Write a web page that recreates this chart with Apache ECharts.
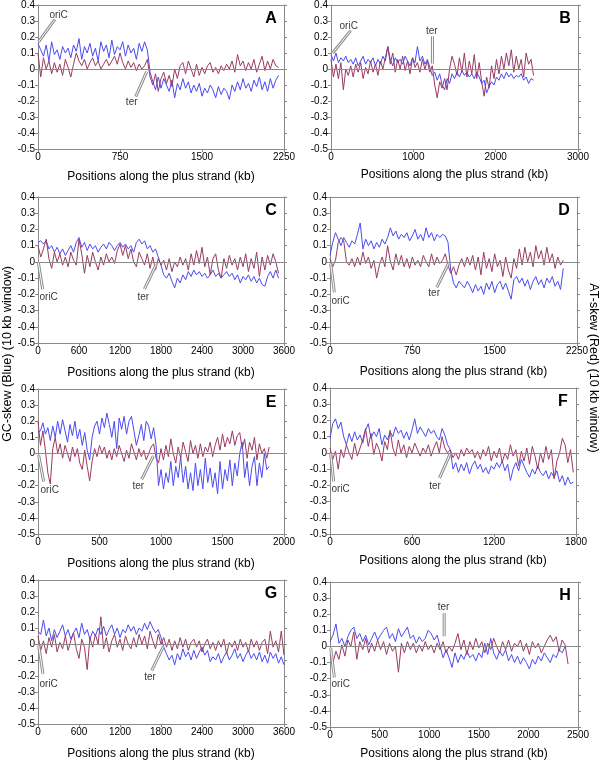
<!DOCTYPE html>
<html>
<head>
<meta charset="utf-8">
<script src="https://cdn.jsdelivr.net/npm/echarts@6/dist/echarts.min.js"></script>
<style>
html,body{margin:0;padding:0;background:#fff;}
#chart{width:600px;height:761px;}
</style>
</head>
<body>
<div id="chart"></div>
<script>
// ---------------- DATA (window step in kb, GC-skew blue, AT-skew red) ----------------
const stepA = 25;
const gcA = [0.16,0.12,0.08,0.15,0.05,0.17,0.09,0.12,0.06,0.14,0.10,0.13,0.07,0.15,0.11,0.19,0.06,0.14,0.10,0.16,0.08,0.13,0.05,0.17,0.11,0.15,0.07,0.18,0.09,0.14,0.12,0.17,0.08,0.15,0.10,0.13,0.06,0.16,0.11,0.17,0.12,-0.02,-0.08,-0.13,-0.05,-0.12,-0.06,-0.10,-0.14,-0.07,-0.18,-0.09,-0.13,-0.06,-0.12,-0.08,-0.15,-0.10,-0.14,-0.09,-0.17,-0.12,-0.15,-0.10,-0.13,-0.18,-0.11,-0.16,-0.12,-0.14,-0.19,-0.10,-0.14,-0.08,-0.13,-0.06,-0.12,-0.09,-0.14,-0.07,-0.11,-0.05,-0.13,-0.08,-0.14,-0.06,-0.12,-0.07,-0.04];
const atA = [0.10,-0.05,0.07,0.00,0.05,-0.03,0.04,-0.02,0.03,-0.04,0.06,0.01,-0.05,0.03,0.10,0.05,0.02,0.06,0.00,0.04,0.07,0.02,0.05,0.00,0.03,0.06,0.02,0.05,0.08,0.03,0.10,0.04,0.00,0.05,0.01,0.04,-0.01,0.03,0.00,0.02,0.06,-0.05,-0.10,-0.03,-0.14,-0.06,-0.02,-0.09,-0.04,-0.11,0.00,-0.06,0.02,0.04,-0.03,0.05,0.00,-0.05,0.03,-0.04,0.01,-0.03,0.02,0.04,-0.02,0.01,-0.03,0.02,-0.01,0.03,0.00,0.05,-0.02,0.09,0.02,0.05,-0.01,0.04,0.00,0.06,-0.02,0.03,0.08,-0.01,0.05,0.00,0.06,0.02,0.01];

const stepB = 30;
const gcB = [0.09,0.05,0.10,0.04,0.07,0.05,0.08,0.04,0.06,0.03,0.07,0.02,0.05,0.08,0.03,0.06,0.04,0.07,0.02,0.06,0.03,0.08,0.05,0.14,0.06,0.02,0.07,0.04,0.06,0.03,0.08,0.05,0.02,0.07,0.04,0.14,0.05,0.08,0.03,0.06,0.01,-0.04,-0.02,-0.07,-0.03,-0.10,-0.13,-0.06,-0.09,-0.03,-0.06,-0.02,-0.05,-0.01,-0.04,-0.02,-0.05,-0.03,-0.06,-0.02,-0.05,-0.09,-0.07,-0.15,-0.11,-0.08,-0.10,-0.05,-0.07,-0.03,-0.06,-0.02,-0.05,-0.03,-0.06,-0.04,-0.05,-0.03,-0.07,-0.05,-0.09,-0.06,-0.07];
const atB = [0.06,-0.05,0.03,-0.06,0.04,-0.13,0.00,-0.04,0.02,-0.05,0.03,-0.02,0.04,-0.06,0.01,-0.03,0.05,-0.02,0.03,-0.04,0.05,0.00,0.07,0.14,0.03,0.10,-0.02,0.06,0.00,0.08,-0.01,0.05,-0.03,0.07,0.01,0.04,-0.02,0.06,0.00,0.05,-0.02,0.02,-0.10,-0.18,-0.08,-0.12,-0.06,-0.13,0.00,0.08,0.03,-0.04,0.07,-0.02,0.10,-0.05,0.05,-0.03,0.09,-0.06,0.04,-0.08,-0.17,-0.05,-0.12,0.02,-0.06,0.06,-0.03,0.08,0.00,0.10,0.02,0.12,-0.02,0.08,0.00,0.06,-0.05,0.10,0.03,0.06,-0.04];

const stepC = 40;
const gcC = [0.12,0.13,0.11,0.13,0.08,0.10,0.06,0.09,0.05,0.08,0.04,0.07,0.10,0.06,0.12,0.15,0.09,0.12,0.07,0.11,0.08,0.10,0.06,0.09,0.11,0.08,0.12,0.10,0.07,0.10,0.12,0.09,0.11,0.08,0.10,0.06,0.12,0.14,0.11,0.13,0.08,0.10,0.06,0.08,0.03,-0.02,-0.08,-0.10,-0.07,-0.12,-0.16,-0.10,-0.13,-0.08,-0.11,-0.06,-0.09,-0.05,-0.08,-0.06,-0.09,-0.07,-0.10,-0.08,-0.05,-0.09,-0.07,-0.10,-0.08,-0.06,-0.09,-0.07,-0.11,-0.08,-0.13,-0.09,-0.11,-0.08,-0.12,-0.09,-0.13,-0.10,-0.14,-0.15,-0.09,-0.06,-0.10,-0.05,-0.10];
const atC = [0.10,0.03,0.08,0.14,0.02,-0.04,0.06,0.00,0.05,-0.02,0.03,-0.03,0.06,0.01,-0.02,0.14,0.05,-0.07,0.04,-0.03,0.06,0.00,-0.05,0.03,-0.02,0.05,0.00,0.03,-0.01,0.07,0.11,0.04,0.10,0.02,0.08,0.00,-0.03,0.06,0.02,-0.02,0.05,-0.04,0.03,-0.05,0.02,-0.02,0.01,-0.05,0.02,-0.06,0.00,-0.03,0.03,-0.02,0.02,-0.05,0.05,-0.02,0.07,-0.01,0.09,-0.03,0.03,-0.08,0.02,0.05,-0.05,-0.10,0.02,-0.04,0.04,-0.02,0.02,-0.05,0.03,-0.03,0.05,-0.06,0.02,-0.04,0.06,-0.09,0.03,-0.05,0.04,-0.02,0.05,0.00,-0.07];

const stepD = 25;
const gcD = [0.04,0.12,0.18,0.14,0.10,0.15,0.12,0.09,0.13,0.11,0.17,0.24,0.08,0.14,0.10,0.13,0.08,0.12,0.09,0.14,0.11,0.15,0.21,0.16,0.19,0.14,0.17,0.15,0.18,0.13,0.16,0.20,0.14,0.17,0.13,0.21,0.15,0.18,0.13,0.17,0.15,0.17,0.16,0.12,-0.05,-0.13,-0.16,-0.12,-0.14,-0.16,-0.12,-0.15,-0.19,-0.14,-0.18,-0.15,-0.20,-0.13,-0.17,-0.12,-0.19,-0.14,-0.12,-0.17,-0.13,-0.18,-0.23,-0.11,-0.09,-0.13,-0.10,-0.15,-0.11,-0.17,-0.12,-0.09,-0.14,-0.11,-0.16,-0.10,-0.13,-0.09,-0.15,-0.12,-0.17,-0.04];
const atD = [0.02,-0.03,0.01,0.12,0.15,0.13,0.00,-0.02,0.02,-0.03,0.03,-0.02,0.06,-0.01,0.03,-0.04,0.01,-0.10,-0.02,0.03,-0.03,0.10,0.00,-0.05,0.05,-0.02,0.04,-0.03,0.02,-0.04,0.03,-0.02,0.01,-0.03,0.04,0.00,-0.03,0.05,-0.02,0.03,-0.01,0.01,0.05,-0.02,-0.07,-0.03,-0.08,-0.02,0.02,-0.03,0.03,-0.02,0.04,-0.05,0.03,-0.08,0.06,-0.04,0.02,-0.06,0.05,-0.03,0.01,-0.09,0.03,-0.05,-0.10,0.02,-0.04,0.08,-0.02,0.09,0.00,0.06,-0.03,0.10,0.02,0.07,-0.02,0.09,0.00,0.05,-0.04,0.03,-0.02,0.01];

const stepE = 20;
const gcE = [0.13,0.14,0.19,0.12,0.16,0.08,0.17,0.10,0.20,0.12,0.21,0.14,0.07,0.18,0.11,0.20,0.09,0.15,0.05,0.13,0.02,-0.04,0.10,0.17,0.20,0.12,0.22,0.16,0.25,0.18,0.10,0.20,0.03,0.22,0.15,0.23,0.12,0.20,0.23,0.14,0.05,0.11,0.18,0.08,0.20,0.17,0.09,0.16,0.05,-0.20,-0.10,-0.22,-0.12,-0.18,-0.05,-0.20,-0.08,-0.15,-0.02,-0.18,-0.08,-0.22,-0.12,-0.23,-0.06,-0.20,-0.10,-0.22,-0.03,-0.18,-0.09,-0.21,-0.12,-0.25,-0.05,-0.22,-0.10,-0.17,-0.04,-0.20,-0.06,-0.14,0.00,0.07,-0.15,-0.05,-0.20,-0.08,-0.02,-0.20,-0.06,-0.15,0.00,-0.10,-0.08];
const atE = [0.20,0.05,0.14,0.02,-0.12,-0.19,0.03,0.10,0.00,0.06,-0.03,0.05,0.00,-0.05,0.04,-0.02,0.03,-0.06,-0.10,0.02,-0.08,-0.17,-0.05,0.03,-0.02,0.05,0.00,0.04,-0.03,0.02,-0.04,0.03,-0.02,0.05,0.00,-0.05,0.02,-0.03,0.06,0.01,-0.04,0.03,-0.02,0.02,-0.04,0.00,0.04,0.06,-0.03,-0.06,0.03,-0.04,0.05,-0.02,0.09,0.00,-0.06,0.04,-0.03,0.07,0.01,-0.05,0.08,0.00,0.05,-0.03,0.06,-0.02,0.04,0.01,0.07,-0.02,0.05,0.10,0.02,0.12,0.04,0.10,0.06,0.14,0.05,0.11,0.13,0.03,0.09,-0.03,0.07,0.02,0.10,-0.04,0.06,0.00,0.03,-0.03,0.04];

const stepF = 20;
const gcF = [0.09,0.18,0.21,0.15,0.19,0.10,0.05,0.12,0.07,0.13,0.08,0.11,0.06,0.14,0.18,0.09,0.13,0.10,0.15,0.05,0.11,0.08,0.13,0.10,0.16,0.12,0.14,0.09,0.13,0.08,0.14,0.21,0.12,0.16,0.13,0.10,0.15,0.12,0.14,0.10,0.08,0.15,0.11,0.05,0.02,-0.10,-0.06,-0.12,-0.07,-0.11,-0.06,-0.13,-0.08,-0.05,-0.10,-0.07,-0.12,-0.09,-0.13,-0.08,-0.10,-0.06,-0.09,-0.05,-0.11,-0.07,-0.17,-0.10,-0.06,-0.11,-0.04,-0.08,-0.12,-0.15,-0.10,-0.13,-0.08,-0.12,-0.14,-0.11,-0.16,-0.12,-0.15,-0.11,-0.18,-0.14,-0.20,-0.15,-0.19,-0.18];
const atF = [0.03,-0.04,0.01,-0.10,0.02,-0.03,0.05,0.00,-0.04,0.06,-0.02,0.03,0.08,0.15,0.04,0.12,-0.01,0.06,0.02,-0.05,0.07,0.02,0.14,0.03,-0.02,0.08,0.00,0.05,-0.03,0.04,0.00,0.06,0.02,-0.02,0.03,0.00,0.05,-0.02,0.03,0.07,0.00,0.10,0.03,0.00,0.02,-0.03,0.00,-0.04,0.02,-0.02,0.03,0.00,0.02,-0.03,0.01,-0.04,0.02,-0.02,0.04,-0.05,0.01,-0.03,0.03,-0.06,0.00,-0.04,0.05,-0.02,0.02,-0.08,0.01,-0.05,0.03,-0.07,0.04,-0.02,-0.10,0.00,-0.06,0.04,-0.04,0.02,-0.16,-0.05,0.00,0.09,0.05,-0.06,0.02,-0.12];

const stepG = 40;
const gcG = [0.08,0.06,0.15,0.05,0.10,0.02,0.09,0.04,0.08,0.12,0.05,0.09,0.03,0.07,0.10,0.04,0.13,0.06,0.09,0.03,0.08,0.05,0.10,0.06,0.11,0.05,0.09,0.12,0.06,0.10,0.04,0.09,0.07,0.12,0.08,0.11,0.06,0.10,0.08,0.13,0.09,0.14,0.10,0.07,0.09,0.04,-0.02,-0.06,-0.10,-0.07,-0.13,-0.06,-0.10,-0.03,-0.08,-0.05,-0.10,-0.04,-0.09,-0.05,-0.02,-0.07,-0.04,-0.11,-0.08,-0.10,-0.06,-0.12,-0.08,-0.05,-0.10,-0.07,-0.03,-0.09,-0.06,-0.11,-0.07,-0.04,-0.09,-0.06,-0.10,-0.05,-0.11,-0.07,-0.12,-0.05,-0.09,-0.06,-0.12,-0.08,-0.13];
const atG = [0.05,-0.04,0.02,-0.06,0.04,-0.02,0.06,-0.05,0.01,-0.03,0.05,-0.04,0.02,0.07,-0.03,-0.09,0.03,-0.02,-0.16,0.04,-0.02,0.06,0.00,0.17,-0.03,0.04,-0.05,0.02,0.06,-0.02,0.03,-0.04,0.05,0.00,-0.03,0.04,-0.02,0.06,0.00,0.05,-0.03,0.08,0.02,-0.03,0.06,0.00,0.04,-0.02,0.03,-0.04,0.02,-0.03,0.04,-0.02,0.03,-0.04,0.01,0.03,-0.02,0.02,-0.05,0.00,0.03,-0.03,0.01,-0.04,0.02,-0.02,0.03,-0.06,0.01,-0.02,0.02,-0.04,0.03,-0.02,0.01,-0.05,0.03,-0.02,0.02,-0.04,0.01,0.03,-0.06,0.08,-0.02,0.02,-0.05,0.08,-0.07];

const stepH = 30;
const gcH = [0.03,0.07,0.14,0.02,0.05,0.00,0.06,0.10,0.12,0.05,0.08,0.03,0.07,0.01,0.05,0.09,0.04,0.07,0.10,0.12,0.05,0.08,0.03,0.11,0.06,0.09,0.12,0.05,0.07,0.02,0.06,0.03,0.05,0.10,0.08,0.04,0.07,0.00,-0.07,-0.02,-0.07,-0.13,-0.04,-0.10,-0.05,-0.08,-0.03,-0.07,-0.05,-0.09,-0.04,-0.07,0.02,-0.05,0.05,-0.04,-0.08,-0.03,-0.06,-0.02,-0.09,-0.05,-0.10,-0.06,-0.11,-0.07,-0.10,-0.14,-0.08,-0.11,-0.06,-0.09,-0.04,-0.07,-0.10,-0.05,-0.07,-0.02,-0.04,0.00,0.00];
const atH = [-0.05,-0.10,-0.03,-0.08,0.01,-0.06,0.04,0.00,0.09,-0.08,0.03,-0.02,0.05,-0.04,0.02,-0.03,0.04,-0.02,0.03,-0.05,0.02,-0.03,0.00,-0.16,0.02,-0.04,0.03,-0.02,0.02,-0.04,0.01,-0.03,0.03,-0.02,0.01,-0.04,0.02,-0.02,0.03,-0.04,0.00,-0.03,0.02,0.08,-0.02,0.04,-0.05,0.03,-0.02,0.05,-0.01,0.03,-0.04,0.02,-0.02,0.05,0.00,-0.04,0.03,-0.02,0.04,-0.03,0.02,0.00,0.04,-0.03,0.02,-0.05,0.03,-0.01,0.02,-0.04,0.00,0.04,0.07,0.03,0.06,-0.03,0.04,0.01,-0.11];

// x-axis extents / tick intervals (kb)
const xMaxes = [2250, 3000, 3600, 2250, 2000, 1800, 3600, 2500];
const xIntervals = [750, 1000, 600, 750, 500, 600, 600, 500];
const panelLetters = ['A','B','C','D','E','F','G','H'];

// annotations: leader [from, to] and label centre, in data coordinates
const oriC = [
  {line:[[5,0.17],[155,0.31]], label:[188,0.336]},
  {line:[[20,0.10],[239,0.24]], label:[215,0.27]},
  {line:[[5,-0.004],[68,-0.168]], label:[156,-0.215]},
  {line:[[6,-0.01],[40,-0.188]], label:[97,-0.241]},
  {line:[[5,-0.01],[46,-0.175]], label:[95,-0.231]},
  {line:[[5,-0.006],[27,-0.176]], label:[78,-0.223]},
  {line:[[10,-0.008],[73,-0.188]], label:[156,-0.25]},
  {line:[[7,-0.01],[44,-0.193]], label:[108,-0.234]}
];
const ter = [
  {line:[[994,-0.017],[894,-0.172]], label:[857,-0.21]},
  {line:[[1232,0.205],[1232,0.035]], label:[1224,0.239]},
  {line:[[1727,-0.018],[1557,-0.168]], label:[1542,-0.219]},
  {line:[[1079,-0.01],[973,-0.157]], label:[949,-0.194]},
  {line:[[938,-0.016],[843,-0.161]], label:[816,-0.202]},
  {line:[[879,-0.006],[801,-0.156]], label:[769,-0.203]},
  {line:[[1834,-0.017],[1664,-0.167]], label:[1640,-0.209]},
  {line:[[1151,0.207],[1151,0.064]], label:[1144,0.244]}
];

// ---------------- LAYOUT ----------------
const steps = [stepA, stepB, stepC, stepD, stepE, stepF, stepG, stepH];
const gcs = [gcA, gcB, gcC, gcD, gcE, gcF, gcG, gcH];
const ats = [atA, atB, atC, atD, atE, atF, atG, atH];
const grids = [
  {left:38, top:5, width:246, height:144},
  {left:331, top:5, width:247, height:144},
  {left:38, top:197, width:246, height:146},
  {left:330, top:197, width:247, height:146},
  {left:38, top:389, width:246, height:145},
  {left:330, top:388, width:246, height:146},
  {left:38, top:580, width:246, height:145},
  {left:330, top:582, width:248, height:146}
];
const nameGaps = [22, 20, 24, 23, 24, 21, 24, 21];

const FONT = "'Liberation Sans', Arial, Helvetica, sans-serif";
const AX = '#8a8a8a';
const BLUE = '#4b4bf2';
const RED = '#9a3a62';

const toXY = (arr, step) => arr.map((v, i) => [i * step, v]);
const fmtY = v => { const r = Math.round(v * 10) / 10; return r === 0 ? '0' : String(r); };
const fmtX = v => String(Math.round(v));

const xAxis = [], yAxis = [], series = [], graphic = [];
grids.forEach((g, i) => {
  xAxis.push({
    gridIndex: i, type: 'value', min: 0, max: xMaxes[i], interval: xIntervals[i], position: 'bottom',
    axisLine: {show: true, onZero: false, lineStyle: {color: AX, width: 1}},
    axisTick: {show: true, length: 3, lineStyle: {color: AX}},
    axisLabel: {fontSize: 10, color: '#000', margin: 3, fontFamily: FONT, formatter: fmtX},
    splitLine: {show: false},
    name: 'Positions along the plus strand (kb)', nameLocation: 'middle', nameGap: nameGaps[i],
    nameTextStyle: {fontSize: 12, color: '#000', fontFamily: FONT}
  });
  xAxis.push({
    gridIndex: i, type: 'value', min: 0, max: xMaxes[i], interval: xIntervals[i], position: 'top',
    axisLine: {show: true, onZero: false, lineStyle: {color: AX, width: 1}},
    axisTick: {show: false}, axisLabel: {show: false}, splitLine: {show: false}
  });
  yAxis.push({
    gridIndex: i, type: 'value', min: -0.5, max: 0.4, interval: 0.1, position: 'left',
    axisLine: {show: true, onZero: false, lineStyle: {color: AX, width: 1}},
    axisTick: {show: true, length: 3, lineStyle: {color: AX}},
    axisLabel: {fontSize: 10, color: '#000', margin: 3, fontFamily: FONT, formatter: fmtY},
    splitLine: {show: false}
  });
  yAxis.push({
    gridIndex: i, type: 'value', min: -0.5, max: 0.4, interval: 0.1, position: 'right',
    axisLine: {show: true, onZero: false, lineStyle: {color: AX, width: 1}},
    axisTick: {show: true, length: 3, lineStyle: {color: AX}},
    axisLabel: {show: false}, splitLine: {show: false}
  });
  const xi = 2 * i, yi = 2 * i;
  series.push({
    type: 'line', xAxisIndex: xi, yAxisIndex: yi, data: toXY(gcs[i], steps[i]),
    showSymbol: false, symbol: 'none', lineStyle: {color: BLUE, width: 1}, z: 3,
    markLine: {silent: true, symbol: 'none', label: {show: false},
      lineStyle: {color: AX, width: 1, type: 'solid'}, data: [{yAxis: 0}], animation: false}
  });
  series.push({
    type: 'line', xAxisIndex: xi, yAxisIndex: yi, data: toXY(ats[i], steps[i]),
    showSymbol: false, symbol: 'none', lineStyle: {color: RED, width: 1}, z: 4
  });
  [oriC[i], ter[i]].forEach((a, k) => {
    series.push({type: 'line', xAxisIndex: xi, yAxisIndex: yi, data: a.line, showSymbol: false, symbol: 'none',
      lineStyle: {color: '#8c8c8c', width: 3}, z: 6, silent: true});
    series.push({type: 'line', xAxisIndex: xi, yAxisIndex: yi, data: a.line, showSymbol: false, symbol: 'none',
      lineStyle: {color: '#ffffff', width: 1}, z: 7, silent: true});
    series.push({type: 'scatter', xAxisIndex: xi, yAxisIndex: yi, data: [a.label], symbolSize: 2,
      itemStyle: {color: 'rgba(0,0,0,0)'}, z: 8, silent: true,
      label: {show: true, position: 'inside', formatter: k === 0 ? 'oriC' : 'ter',
        fontSize: 10, color: '#000', fontFamily: FONT}});
  });
  graphic.push({
    type: 'text', x: g.left + g.width - 13, y: g.top + 14,
    style: {text: panelLetters[i], fontSize: 16, fontWeight: 'bold', fontFamily: FONT, fill: '#000',
      align: 'center', verticalAlign: 'middle'}
  });
});

graphic.push({
  type: 'text', x: 8, y: 354, rotation: Math.PI / 2,
  style: {text: 'GC-skew (Blue) (10 kb window)', fontSize: 12.5, fontFamily: FONT, fill: '#000',
    align: 'center', verticalAlign: 'middle'}
});
graphic.push({
  type: 'text', x: 593, y: 368, rotation: -Math.PI / 2,
  style: {text: 'AT-skew (Red) (10 kb window)', fontSize: 12.5, fontFamily: FONT, fill: '#000',
    align: 'center', verticalAlign: 'middle'}
});

const chart = echarts.init(document.getElementById('chart'), null, {renderer: 'canvas'});
chart.setOption({
  animation: false,
  backgroundColor: '#fff',
  grid: grids,
  xAxis: xAxis,
  yAxis: yAxis,
  series: series,
  graphic: graphic
});
</script>
</body>
</html>
